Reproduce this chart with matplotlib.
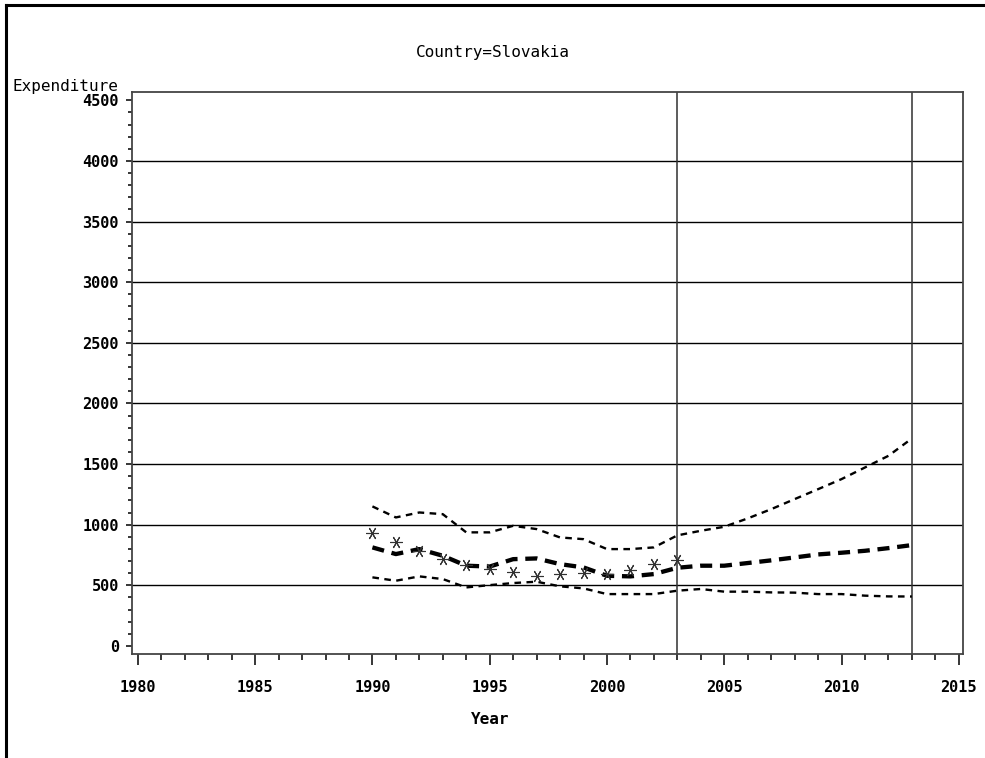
import numpy as np
import matplotlib
matplotlib.use("Agg")
import matplotlib.pyplot as plt
from matplotlib.lines import Line2D
from matplotlib.ticker import MultipleLocator

# observed expenditure (stars)
obs_years = list(range(1990, 2004))
actual = [930, 854, 780, 717, 670, 634, 612, 579, 590, 601, 593, 626, 675, 711]

# fitted / forecast line with bounds
fc_years = list(range(1990, 2014))
predicted = [813, 758, 799, 744, 662, 655, 716, 722, 675, 648, 579, 574, 593, 645,
             662, 662, 684, 706, 730, 755, 769, 785, 807, 832]
upper = [1151, 1060, 1101, 1087, 937, 937, 991, 964, 895, 881, 799, 799, 813, 912,
         950, 983, 1052, 1128, 1211, 1293, 1376, 1472, 1568, 1711]
lower = [566, 538, 574, 552, 483, 502, 519, 530, 492, 475, 428, 428, 428, 456,
         470, 448, 448, 442, 440, 428, 428, 415, 409, 408]

ref_years = [2003, 2013]
y_ticks = list(range(0, 5000, 500))
x_ticks = list(range(1980, 2020, 5))

W, H = 985, 758
fig = plt.figure(figsize=(W / 100, H / 100), dpi=100)
ax = fig.add_axes([132 / W, 1 - 654 / H, (963 - 132) / W, (654 - 92) / H])

mono = "DejaVu Sans Mono"

# horizontal grid + reference lines
for v in y_ticks[1:-1]:
    ax.axhline(v, color="black", lw=1.0, zorder=1)
for r in ref_years:
    ax.axvline(r, color="#303030", lw=1.1, zorder=1)

ax.plot(fc_years, upper, color="black", lw=1.7, ls=(0, (2.8, 2.3)), zorder=3)
ax.plot(fc_years, lower, color="black", lw=1.7, ls=(0, (2.8, 2.3)), zorder=3)
ax.plot(fc_years, predicted, color="black", lw=3.1, ls=(0, (2.8, 1.8)), zorder=3)
ax.plot(obs_years, actual, ls="none", marker=(6, 2, 30), ms=9, mew=0.8,
        color="#333333", zorder=4)

ax.set_xlim(1979.75, 2015.18)
ax.set_ylim(-66, 4568)
ax.set_xticks(x_ticks)
ax.set_yticks(y_ticks)
ax.xaxis.set_minor_locator(MultipleLocator(1))
ax.yaxis.set_minor_locator(MultipleLocator(100))
ax.tick_params(axis="y", which="major", direction="out", length=4, width=1.1, pad=5.5)
ax.tick_params(axis="y", which="minor", direction="out", length=3, width=1.1)
ax.tick_params(axis="x", which="major", direction="out", length=8, width=1.1, pad=11)
ax.tick_params(axis="x", which="minor", direction="out", length=4.5, width=1.1)
for lab in ax.get_xticklabels() + ax.get_yticklabels():
    lab.set_fontfamily(mono)
    lab.set_fontweight("bold")
    lab.set_fontsize(11)
for s in ax.spines.values():
    s.set_color("#444444")
    s.set_linewidth(1.3)

fig.text(493 / W, 1 - 53 / H, "Country=Slovakia", family=mono, fontsize=11.5,
         ha="center", va="center")
fig.text(13 / W, 1 - 87 / H, "Expenditure", family=mono, fontsize=11.5,
         ha="left", va="center")
fig.text(490 / W, 1 - 720 / H, "Year", family=mono, fontsize=11.5,
         fontweight="bold", ha="center", va="center")

# page border (left and top edge)
fig.add_artist(Line2D([6 / W, 6 / W], [0, 1 - 5 / H], color="black", lw=2.2,
                      transform=fig.transFigure))
fig.add_artist(Line2D([6 / W, 1], [1 - 5 / H, 1 - 5 / H], color="black", lw=2.2,
                      transform=fig.transFigure))

fig.savefig("out.png", dpi=100)
